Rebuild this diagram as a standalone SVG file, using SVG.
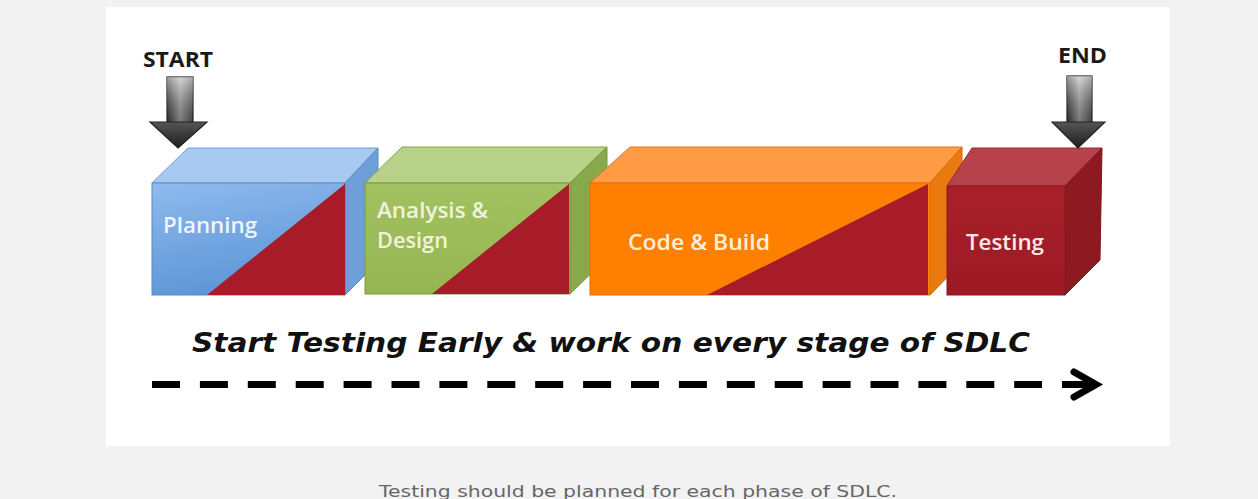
<svg xmlns="http://www.w3.org/2000/svg" width="1258" height="499" viewBox="0 0 1258 499">
<defs>
<linearGradient id="arrowShaft" x1="0" y1="0" x2="1" y2="0">
<stop offset="0" stop-color="#3a3a3a"/>
<stop offset="0.5" stop-color="#b0b0b0"/>
<stop offset="1" stop-color="#5a5a5a"/>
</linearGradient>
<linearGradient id="arrowShaftV" x1="0" y1="0" x2="0" y2="1">
<stop offset="0" stop-color="#ffffff" stop-opacity="0.5"/>
<stop offset="1" stop-color="#000000" stop-opacity="0.3"/>
</linearGradient>
<linearGradient id="arrowHead" x1="0" y1="0" x2="0" y2="1">
<stop offset="0" stop-color="#555555"/>
<stop offset="1" stop-color="#1e1e1e"/>
</linearGradient>
<linearGradient id="blueFront" x1="0" y1="0" x2="0.3" y2="1">
<stop offset="0" stop-color="#8fbaee"/>
<stop offset="1" stop-color="#5d96d6"/>
</linearGradient>
<linearGradient id="greenFront" x1="0" y1="0" x2="0" y2="1">
<stop offset="0" stop-color="#a2c160"/>
<stop offset="1" stop-color="#96b552"/>
</linearGradient>
<linearGradient id="redFront" x1="0" y1="0" x2="0" y2="1">
<stop offset="0" stop-color="#a8202a"/>
<stop offset="1" stop-color="#9c1a23"/>
</linearGradient>
</defs>
<style>
.bg{fill:#f2f2f2}
.panel{fill:#ffffff}
.lbl{font-family:"Open Sans","Noto Sans","DejaVu Sans",sans-serif;font-size:21px;font-weight:600}
.tag{font-family:"Open Sans","Noto Sans","DejaVu Sans",sans-serif;font-size:21px;font-weight:700;fill:#1a1a1a}
.tri{fill:#a71c28}
.arrowShaft{fill:url(#arrowShaft);stroke:#222;stroke-width:1.2}
.arrowHead{fill:url(#arrowHead);stroke:#222;stroke-width:1.2;stroke-linejoin:miter}
.slogan{font-family:"DejaVu Sans",Verdana,sans-serif;font-size:27px;font-weight:bold;font-style:italic;fill:#111}
.caption{font-family:"DejaVu Sans",Verdana,sans-serif;font-size:16px;fill:#666666}
.dash{stroke:#000;stroke-width:7;fill:none}
</style>
<rect class="bg" x="0" y="0" width="1258" height="499"/>
<rect class="panel" x="106" y="7" width="1064" height="439"/>

<g id="node-planning">
<polygon points="152,183 188,148 378,148 345,183" fill="#a8c9f0" stroke="#6f9fd6" stroke-width="1"/>
<polygon points="345,183 378,148 378,262 345,295" fill="#6f9fd8" stroke="#5a8ac6" stroke-width="1"/>
<rect x="152" y="183" width="193" height="112" fill="url(#blueFront)" stroke="#5a8ac6" stroke-width="1"/>
<polygon class="tri" points="345,184 345,295 207,295"/>
<text class="lbl" x="163" y="233" fill="#eef4fc" textLength="94" lengthAdjust="spacingAndGlyphs">Planning</text>
</g>

<g id="node-analysis">
<polygon points="365,183 402,147 607,147 570,183" fill="#b9d289" stroke="#86a54a" stroke-width="1"/>
<polygon points="570,183 607,147 607,258 570,294" fill="#88a84c" stroke="#7a9842" stroke-width="1"/>
<rect x="365" y="183" width="205" height="111" fill="url(#greenFront)" stroke="#7a9842" stroke-width="1"/>
<polygon class="tri" points="569,184 569,294 432,294"/>
<text class="lbl" x="377" y="218" fill="#f0f3dc" textLength="111" lengthAdjust="spacingAndGlyphs">Analysis &amp;</text>
<text class="lbl" x="377" y="248" fill="#f0f3dc" textLength="71" lengthAdjust="spacingAndGlyphs">Design</text>
</g>

<g id="node-code">
<polygon points="590,183 630,147 962,147 930,183" fill="#ff9b45" stroke="#e07a20" stroke-width="1"/>
<polygon points="930,183 962,147 962,262 930,295" fill="#e87a10" stroke="#d06a0a" stroke-width="1"/>
<rect x="590" y="183" width="340" height="112" fill="#ff8000" stroke="#e07010" stroke-width="1"/>
<polygon class="tri" points="928,184 928,295 707,295"/>
<text class="lbl" x="628" y="250" fill="#fcefdc" textLength="142" lengthAdjust="spacingAndGlyphs">Code &amp; Build</text>
</g>

<g id="node-testing">
<polygon points="947,186 972,148 1102,148 1065,186" fill="#b8424c" stroke="#9a2a32" stroke-width="1"/>
<polygon points="1065,186 1102,148 1100,260 1065,295" fill="#8e1a21" stroke="#7e161c" stroke-width="1"/>
<rect x="947" y="186" width="118" height="109" fill="url(#redFront)" stroke="#8a1820" stroke-width="1"/>
<text class="lbl" x="966" y="250" fill="#fde9ea" textLength="78" lengthAdjust="spacingAndGlyphs">Testing</text>
</g>

<g id="node-start">
<text class="tag" x="143" y="67" textLength="70" lengthAdjust="spacingAndGlyphs">START</text>
<rect class="arrowShaft" x="167" y="77" width="26" height="46"/>
<rect x="167" y="77" width="26" height="46" fill="url(#arrowShaftV)"/>
<polygon class="arrowHead" points="150,122 207,122 178,148"/>
</g>

<g id="node-end">
<text class="tag" x="1058" y="63" textLength="49" lengthAdjust="spacingAndGlyphs">END</text>
<rect class="arrowShaft" x="1067" y="76" width="25" height="47"/>
<rect x="1067" y="76" width="25" height="47" fill="url(#arrowShaftV)"/>
<polygon class="arrowHead" points="1052,122 1105,122 1078,148"/>
</g>

<g id="slogan">
<text class="slogan" x="192" y="352" textLength="838" lengthAdjust="spacingAndGlyphs">Start Testing Early &amp; work on every stage of SDLC</text>
</g>

<g id="connectors">
<line class="dash" x1="152" y1="384.5" x2="1042" y2="384.5" stroke-dasharray="28 19.9"/>
<line class="dash" x1="1062" y1="384.5" x2="1094" y2="384.5"/>
<polyline class="dash" points="1074,372 1096,384.5 1074,397" stroke-linejoin="miter" stroke-linecap="round"/>
</g>

<text class="caption" x="638" y="497" text-anchor="middle" textLength="518" lengthAdjust="spacingAndGlyphs">Testing should be planned for each phase of SDLC.</text>
</svg>
